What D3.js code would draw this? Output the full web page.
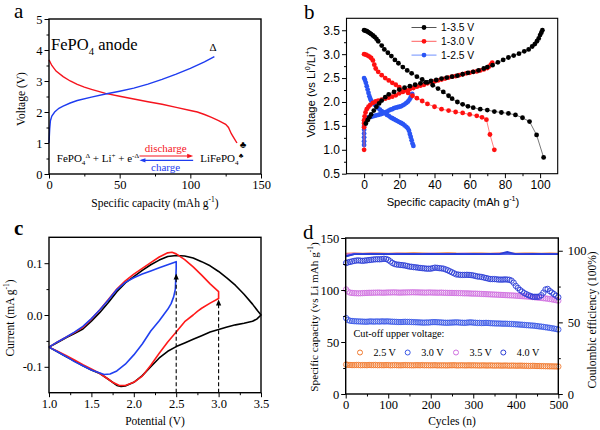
<!DOCTYPE html>
<html><head><meta charset="utf-8">
<script src="https://cdn.jsdelivr.net/npm/d3@7/dist/d3.min.js"></script>
<style>body{margin:0;background:#fff;} svg{display:block;}</style>
</head><body>
<svg id="chart" width="600" height="430"></svg>
<script>
// ---------------- Panel a data ----------------
const aDisCap = [0,2,5,10,15,20,25,30,40,50,60,70,80,90,100,105,110,115,120,125,127,129,131,133];
const aDisV   = [3.68,3.5,3.32,3.14,3.0,2.89,2.8,2.73,2.6,2.51,2.42,2.33,2.25,2.15,2.05,2.0,1.92,1.83,1.72,1.6,1.5,1.3,1.15,1.0];
const aChgCap = [0,0.5,1,2,4,7,10,15,20,30,40,50,60,70,80,90,100,110,117];
const aChgV   = [1.0,1.45,1.72,1.87,2.0,2.12,2.19,2.29,2.37,2.48,2.58,2.67,2.77,2.9,3.05,3.22,3.41,3.62,3.79];
const aXTicks = [0,50,100,150], aXLabels = ["0","50","100","150"], aXMinor = [25,75,125];
const aYTicks = [0,1,2,3,4,5], aYLabels = ["0","1","2","3","4","5"], aYMinor = [0.5,1.5,2.5,3.5,4.5];

// ---------------- Panel b data ----------------
const bNames = ["1-3.5 V","1-3.0 V","1-2.5 V"];
const bDis35 = [[0,3.5],[0.8,3.49],[1.6,3.48],[2.4,3.46],[3.2,3.44],[4,3.42],[5,3.39],[6,3.36],[7,3.32],[8,3.27],[10,3.18],[11.5,3.1],[13.5,3.03],[15.5,2.96],[17.5,2.88],[19.5,2.81],[22,2.73],[24.5,2.66],[27,2.6],[30,2.53],[33,2.47],[36,2.41],[39,2.35],[42,2.28],[45,2.21],[48,2.13],[50,2.07],[53,2.0],[56,1.95],[59,1.91],[62,1.88],[66,1.85],[70,1.83],[74,1.8],[78,1.78],[82,1.76],[86,1.73],[90,1.67],[94,1.59],[98,1.31],[102,0.84]];
const bChg35 = [[1,1.55],[2,1.62],[3,1.68],[4,1.74],[5.5,1.82],[7,1.9],[8.5,1.97],[10,2.03],[12,2.1],[14,2.16],[17,2.21],[20,2.26],[23,2.3],[26,2.33],[29,2.36],[32,2.39],[35,2.41],[38,2.44],[41,2.46],[44,2.49],[47,2.51],[50,2.53],[53,2.55],[56,2.58],[59,2.61],[62,2.63],[65,2.66],[68,2.7],[70,2.73],[73,2.77],[76,2.83],[79,2.88],[82,2.93],[85,2.97],[88,3.01],[91,3.06],[93.5,3.1],[95.5,3.16],[97,3.21],[98.2,3.27],[99.2,3.33],[100,3.4],[100.7,3.45],[101.3,3.5]];
const bDis30 = [[0,3.0],[1,2.99],[2,2.97],[3,2.95],[4,2.92],[5,2.87],[5.8,2.78],[6.6,2.7],[8,2.63],[10,2.56],[12,2.5],[14,2.45],[16,2.4],[18,2.36],[20,2.31],[22.5,2.25],[25,2.19],[27.5,2.13],[30,2.08],[33,2.02],[36,1.96],[40,1.9],[44,1.85],[48,1.82],[52,1.79],[56,1.77],[60,1.74],[64,1.71],[67,1.68],[69.5,1.63],[71.5,1.32],[74,1.0]];
const bChg30 = [[0,1.0],[0,1.47],[0,1.55],[0,1.62],[0.3,1.7],[0.8,1.78],[1.5,1.85],[2.5,1.9],[3.5,1.94],[5,1.98],[6.5,2.01],[8,2.03],[10,2.05],[12,2.07],[14,2.09],[16,2.11],[18,2.14],[20,2.18],[22,2.21],[24,2.24],[26,2.27],[28,2.29],[30,2.32],[32,2.34],[34,2.36],[36,2.39],[38,2.41],[40,2.43],[42,2.45],[44,2.47],[46,2.49],[48,2.51],[50,2.53],[52,2.54],[54,2.56],[56,2.58],[58,2.6],[60,2.61],[62,2.63],[64,2.64],[66,2.66],[68,2.68],[70,2.71],[71,2.74],[72,2.78],[72.8,2.82]];
const bDis25 = [[0,2.5],[0.5,2.46],[1,2.4],[1.5,2.33],[2,2.26],[2.5,2.19],[3,2.12],[3.5,2.07],[4,2.03],[5,1.98],[6,1.94],[7,1.9],[8,1.87],[9,1.84],[10,1.81],[11,1.78],[12,1.76],[13,1.73],[14,1.71],[15,1.68],[16,1.66],[17,1.64],[18,1.62],[19,1.6],[20,1.58],[21,1.56],[22,1.54],[23,1.51],[24,1.48],[24.8,1.45],[25.5,1.4],[26,1.33],[26.5,1.27],[27,1.2],[27.5,1.13],[28,1.08]];
const bChg25 = [[0,1.1],[0,1.18],[0,1.26],[0,1.34],[0,1.42],[0,1.5],[0.1,1.57],[0.4,1.62],[1,1.65],[2,1.67],[3,1.68],[4,1.69],[5,1.7],[6,1.71],[7,1.72],[8,1.73],[9,1.74],[10,1.75],[11,1.77],[12,1.78],[13,1.8],[14,1.82],[15,1.84],[16,1.85],[17,1.87],[18,1.88],[19,1.89],[20,1.9],[21,1.91],[22,1.93],[23,1.95],[24,1.98],[25,2.01],[25.8,2.05],[26.4,2.09],[26.9,2.13],[27.3,2.17]];
const bXTicks = [0,20,40,60,80,100], bXLabels = ["0","20","40","60","80","100"], bXMinor = [10,30,50,70,90];
const bYTicks = [0.5,1.0,1.5,2.0,2.5,3.0,3.5], bYLabels = ["0.5","1.0","1.5","2.0","2.5","3.0","3.5"], bYMinor = [0.75,1.25,1.75,2.25,2.75,3.25];

// ---------------- Panel c data ----------------
const cLoop35 = [[1.0,-0.062],[1.1,-0.053],[1.2,-0.044],[1.3,-0.036],[1.4,-0.027],[1.5,-0.012],[1.6,0.005],[1.7,0.024],[1.8,0.045],[1.9,0.062],[2.0,0.074],[2.1,0.086],[2.2,0.097],[2.3,0.106],[2.4,0.113],[2.5,0.115],[2.6,0.114],[2.7,0.11],[2.8,0.103],[2.9,0.095],[3.0,0.084],[3.1,0.071],[3.2,0.057],[3.3,0.04],[3.4,0.021],[3.46,0.008],[3.5,0.0],[3.45,-0.008],[3.4,-0.012],[3.3,-0.016],[3.2,-0.019],[3.1,-0.023],[3.0,-0.028],[2.9,-0.033],[2.8,-0.04],[2.7,-0.047],[2.6,-0.054],[2.5,-0.061],[2.4,-0.07],[2.3,-0.083],[2.2,-0.1],[2.1,-0.117],[2.0,-0.13],[1.9,-0.137],[1.85,-0.138],[1.8,-0.136],[1.7,-0.124],[1.6,-0.113],[1.5,-0.106],[1.4,-0.098],[1.3,-0.089],[1.2,-0.08],[1.1,-0.071],[1.0,-0.062]];
const cLoop30 = [[1.0,-0.062],[1.1,-0.052],[1.2,-0.043],[1.3,-0.034],[1.4,-0.024],[1.5,-0.008],[1.6,0.01],[1.7,0.03],[1.8,0.05],[1.9,0.066],[2.0,0.079],[2.1,0.09],[2.2,0.101],[2.3,0.112],[2.4,0.12],[2.45,0.121],[2.5,0.118],[2.6,0.107],[2.7,0.093],[2.8,0.077],[2.9,0.06],[3.0,0.045],[3.0,0.032],[2.9,0.023],[2.8,0.013],[2.75,0.007],[2.7,0.0],[2.6,-0.013],[2.5,-0.033],[2.4,-0.052],[2.3,-0.074],[2.2,-0.097],[2.1,-0.118],[2.0,-0.13],[1.9,-0.136],[1.83,-0.136],[1.75,-0.13],[1.7,-0.124],[1.6,-0.113],[1.5,-0.104],[1.4,-0.096],[1.3,-0.087],[1.2,-0.078],[1.1,-0.07],[1.0,-0.062]];
const cLoop25 = [[1.0,-0.062],[1.1,-0.052],[1.2,-0.043],[1.3,-0.033],[1.4,-0.022],[1.5,-0.007],[1.6,0.01],[1.7,0.029],[1.8,0.049],[1.9,0.063],[2.0,0.072],[2.1,0.079],[2.2,0.085],[2.3,0.091],[2.4,0.097],[2.5,0.103],[2.5,0.09],[2.495,0.07],[2.49,0.05],[2.47,0.035],[2.44,0.022],[2.4,0.011],[2.35,0.0],[2.3,-0.011],[2.2,-0.031],[2.1,-0.056],[2.0,-0.077],[1.9,-0.095],[1.8,-0.108],[1.72,-0.114],[1.65,-0.115],[1.6,-0.112],[1.5,-0.106],[1.4,-0.098],[1.3,-0.09],[1.2,-0.08],[1.1,-0.071],[1.0,-0.062]];
const cCutoffs = [2.5, 3.0], cArrowTops = [0.08, 0.03];
const cXTicks = [1.0,1.5,2.0,2.5,3.0,3.5], cXLabels = ["1.0","1.5","2.0","2.5","3.0","3.5"], cXMinor = [1.25,1.75,2.25,2.75,3.25];
const cYTicks = [-0.1,0.0,0.1], cYLabels = ["-0.1","0.0","0.1"], cYMinor = [-0.05,0.05];

// ---------------- Panel d data ----------------
const dCycles = [
  1,5,10,15,20,25,30,35,40,45,
  50,55,60,65,70,75,80,85,90,95,
  100,105,110,115,120,125,130,135,140,145,
  150,155,160,165,170,175,180,185,190,195,
  200,205,210,215,220,225,230,235,240,245,
  250,255,260,265,270,275,280,285,290,295,
  300,305,310,315,320,325,330,335,340,345,
  350,355,360,365,370,375,380,385,390,395,
  400,405,410,415,420,425,430,435,440,445,
  450,455,460,465,470,475,480,485,490,495,
  500];
const dCap25 = [
  28.3,28.0,27.9,27.8,27.8,27.9,27.9,27.7,27.8,27.8,
  27.7,27.9,27.8,27.8,27.9,27.7,27.8,27.7,27.7,27.8,
  27.8,27.6,27.7,27.8,27.7,27.6,27.6,27.7,27.8,27.7,
  27.7,27.6,27.6,27.7,27.7,27.6,27.8,27.6,27.7,27.6,
  27.6,27.6,27.7,27.5,27.6,27.5,27.6,27.5,27.5,27.6,
  27.6,27.7,27.5,27.5,27.6,27.6,27.5,27.5,27.6,27.5,
  27.6,27.5,27.5,27.4,27.5,27.5,27.4,27.4,27.5,27.4,
  27.3,27.4,27.4,27.3,27.3,27.4,27.3,27.2,27.3,27.3,
  27.2,27.2,27.3,27.2,27.1,27.1,27.0,27.0,27.1,27.0,
  26.9,26.9,26.8,26.8,26.7,26.7,26.6,26.6,26.5,26.5,
  26.4];
const dCap30 = [
  73.0,71.2,70.5,70.2,70.0,69.9,69.8,69.7,69.6,69.5,
  69.5,69.7,69.8,69.6,69.7,69.8,69.6,69.9,69.7,69.8,
  69.8,69.6,69.5,69.4,69.3,69.2,69.2,69.3,69.4,69.3,
  69.3,69.2,69.1,69.0,68.9,68.8,68.7,68.6,68.8,68.7,
  69.0,69.1,69.1,69.0,68.9,68.8,68.6,68.5,68.5,68.6,
  68.7,68.8,68.9,68.8,68.6,68.5,68.4,68.6,68.8,68.9,
  68.6,68.5,68.3,68.4,68.2,68.3,68.4,68.3,68.1,68.0,
  67.9,67.8,67.8,67.7,67.6,67.6,67.5,67.4,67.3,67.2,
  67.0,66.9,66.7,66.6,66.4,66.2,66.1,65.9,65.8,65.6,
  65.3,65.0,64.8,64.5,64.2,63.9,63.6,63.2,62.9,62.5,
  62.0];
const dCap35 = [
  100.5,98.5,97.5,97.2,97.0,96.9,96.8,96.9,97.0,97.1,
  97.2,97.3,97.3,97.4,97.4,97.5,97.5,97.4,97.4,97.5,
  97.6,97.6,97.7,97.7,97.6,97.5,97.5,97.6,97.6,97.7,
  97.7,97.8,97.8,97.7,97.7,97.6,97.6,97.5,97.5,97.6,
  97.6,97.5,97.5,97.4,97.4,97.5,97.3,97.3,97.2,97.2,
  97.2,97.1,97.1,97.0,97.0,96.9,96.8,96.8,96.7,96.6,
  96.5,96.5,96.4,96.3,96.2,96.1,96.0,95.9,95.8,95.7,
  95.6,95.5,95.4,95.3,95.2,95.1,95.0,94.9,94.8,94.7,
  94.5,94.4,94.2,94.1,93.9,93.8,93.6,93.4,93.2,93.0,
  92.8,92.6,92.4,92.1,91.9,91.6,91.3,91.0,90.6,90.2,
  89.8];
const dCap40 = [
  126.0,126.5,127.0,127.5,128.0,128.3,128.5,128.2,128.0,128.3,
  128.5,128.8,129.0,129.3,129.5,129.6,129.5,129.7,130.0,129.8,
  129.0,127.5,126.0,125.0,124.5,124.3,124.0,123.8,123.5,123.0,
  122.5,122.3,122.0,121.8,121.5,121.2,121.0,120.8,120.5,120.5,
  120.5,121.0,121.5,121.3,121.0,120.8,120.5,119.8,119.0,118.0,
  117.0,116.0,115.0,114.8,114.5,114.5,114.5,114.6,114.5,114.3,
  114.0,113.5,113.0,112.8,112.5,112.0,111.5,111.0,110.5,110.5,
  110.5,110.3,110.0,110.0,110.0,110.2,110.0,109.8,109.0,107.0,
  104.0,102.0,100.0,98.5,97.0,96.0,95.0,94.2,93.5,93.5,
  93.5,93.6,95.0,97.5,100.5,101.0,99.0,97.5,96.0,94.5,
  93.0];
const ceCycles = [1,20,40,60,80,100,120,140,160,180,200,220,240,260,280,300,320,340,360,380,400,420,440,460,480,500];
const dCE25 = [97.9,98.1,98.0,98.2,98.1,98.0,98.2,98.1,98.3,98.1,98.0,98.2,98.4,98.1,98.0,98.2,98.1,98.0,98.2,98.1,98.0,98.1,98.2,98.0,98.1,98.0];
const dCE30 = [96.5,97.6,97.7,97.6,97.8,97.7,97.6,97.7,97.8,97.6,97.7,97.8,97.7,97.6,97.7,97.8,97.7,97.6,97.7,97.8,97.7,97.6,97.7,97.8,97.7,97.6];
const dCE35 = [97.5,97.9,97.8,97.9,97.8,97.7,97.9,97.8,97.7,97.8,97.9,97.8,97.7,97.8,97.9,97.8,97.7,97.8,97.9,97.8,97.7,97.6,97.7,97.8,97.7,97.6];
const dCE40 = [96.0,97.7,97.6,97.8,97.7,97.6,97.7,97.8,97.6,97.7,97.8,97.6,97.7,97.8,97.7,97.6,97.7,97.8,97.7,99.2,97.7,97.6,97.8,97.7,97.6,97.7];
const dNames = ["2.5 V","3.0 V","3.5 V","4.0 V"];
const dXTicks = [0,100,200,300,400,500], dXLabels = ["0","100","200","300","400","500"], dXMinor = [50,150,250,350,450];
const dYTicks = [0,50,100,150], dYLabels = ["0","50","100","150"], dYMinor = [25,75,125];
const dRTicks = [0,50,100], dRLabels = ["0","50","100"], dRMinor = [25,75];

// ---------------- helpers ----------------
const SERIF = '"Liberation Serif","Times New Roman",serif';
const SANS = '"Liberation Sans",Arial,sans-serif';
const svg = d3.select("#chart");
svg.append("rect").attr("width",600).attr("height",430).attr("fill","#fff");

function drawAxis(orient, scale, pos, majors, labels, minors, font, fs, pad) {
  const gen = {bottom: d3.axisBottom, left: d3.axisLeft, right: d3.axisRight}[orient];
  const tr = orient === "bottom" ? `translate(0,${pos})` : `translate(${pos},0)`;
  const gm = svg.append("g").attr("transform", tr).call(gen(scale).tickValues(minors).tickSize(2.5).tickFormat(""));
  gm.select(".domain").remove();
  gm.selectAll("line").attr("stroke","#000").attr("stroke-width",1);
  const g = svg.append("g").attr("transform", tr)
    .call(gen(scale).tickValues(majors).tickSize(4.5).tickPadding(pad == null ? 2 : pad).tickFormat((d,i) => labels[i]));
  g.select(".domain").remove();
  g.attr("font-family", font).attr("font-size", fs);
  g.selectAll("line").attr("stroke","#000").attr("stroke-width",1);
  g.selectAll("text").attr("fill","#000");
  return g;
}
function frame(x, y, sw) {
  const [x0,x1] = x.range(), [y1,y0] = y.range();
  svg.append("rect").attr("x",x0).attr("y",y0).attr("width",x1-x0).attr("height",y1-y0)
    .attr("fill","none").attr("stroke","#000").attr("stroke-width",sw);
}
function rich(t, parts, fs) {
  let cur = 0;
  parts.forEach(([s, k]) => {
    const off = k === "sup" ? -fs*0.42 : k === "sub" ? fs*0.28 : 0;
    const ts = t.append("tspan").text(s).attr("dy", off - cur);
    if (k !== "n") ts.attr("font-size", fs*0.65);
    cur = off;
  });
  return t;
}
function label(x, y, parts, font, fs, rot, anchor, extra) {
  const t = svg.append("text").attr("font-family", font).attr("font-size", fs).attr("fill","#000")
    .attr("text-anchor", anchor || "middle")
    .attr("transform", `translate(${x},${y})` + (rot ? ` rotate(${rot})` : ""));
  if (extra) extra(t);
  return rich(t, parts, fs);
}
function panelLetter(x, y, s, bold) {
  svg.append("text").attr("x",x).attr("y",y).attr("font-family",SERIF).attr("font-size",21)
    .attr("font-weight", bold ? "bold" : "normal").text(s);
}

// ================= Panel a =================
const aX = d3.scaleLinear().domain([0,150]).range([49,261]);
const aY = d3.scaleLinear().domain([0,5]).range([174,19]);
const aRed = "#f5141e", aBlue = "#1e3cf0";
const lineA = d3.line().x(d => aX(d[0])).y(d => aY(d[1]));
svg.append("path").datum(aDisCap.map((c,i) => [c, aDisV[i]])).attr("d", lineA)
  .attr("fill","none").attr("stroke",aRed).attr("stroke-width",1.4);
svg.append("path").datum(aChgCap.map((c,i) => [c, aChgV[i]])).attr("d", lineA)
  .attr("fill","none").attr("stroke",aBlue).attr("stroke-width",1.4);
frame(aX, aY, 1.4);
drawAxis("bottom", aX, 174, aXTicks, aXLabels, aXMinor, SERIF, 12.5);
drawAxis("left", aY, 49, aYTicks, aYLabels, aYMinor, SERIF, 12.5);
label(155, 207, [["Specific capacity (mAh g","n"],["-1","sup"],[")","n"]], SERIF, 11.5);
label(25, 99, [["Voltage (V)","n"]], SERIF, 11.5, -90);
panelLetter(14, 18, "a");
label(aX(1.5), aY(4.0), [["FePO","n"],["4","sub"],[" anode","n"]], SERIF, 16.5, 0, "start");
label(aX(116), aY(3.98), [["Δ","n"]], SERIF, 11);
label(aX(137.3), aY(0.85), [["♣","n"]], SERIF, 10);
label(aX(5.5), aY(0.38), [["FePO","n"],["4","sub"],["Δ","sup"],[" + Li","n"],["+","sup"],[" + e","n"],["-Δ","sup"]], SERIF, 11, 0, "start");
label(aX(107), aY(0.38), [["LiFePO","n"],["4","sub"],["♣","sup"]], SERIF, 11, 0, "start");
label(aX(82.5), aY(0.72), [["discharge","n"]], SERIF, 11, 0, "middle", t => t.attr("fill", aRed));
label(aX(82.5), aY(0.1), [["charge","n"]], SERIF, 11, 0, "middle", t => t.attr("fill", aBlue));
svg.append("line").attr("x1",aX(64)).attr("x2",aX(100.5)).attr("y1",aY(0.58)).attr("y2",aY(0.58)).attr("stroke",aRed).attr("stroke-width",1.1);
svg.append("path").attr("d",`M${aX(102)},${aY(0.58)} l-6,-2.2 l0,4.4 z`).attr("fill",aRed);
svg.append("line").attr("x1",aX(65.5)).attr("x2",aX(102)).attr("y1",aY(0.44)).attr("y2",aY(0.44)).attr("stroke",aBlue).attr("stroke-width",1.1);
svg.append("path").attr("d",`M${aX(64)},${aY(0.44)} l6,-2.2 l0,4.4 z`).attr("fill",aBlue);

// ================= Panel b =================
const bX = d3.scaleLinear().domain([-10,110]).range([346.5,557.7]);
const bY = d3.scaleLinear().domain([0.5,3.75]).range([173.7,18.3]);
const bDot = ["#000000","#ff1010","#2a55f5"], bLine = ["#555555","#ff6060","#7090ff"];
const bSeries = [[bDis35,bChg35],[bDis30,bChg30],[bDis25,bChg25]];
const lineB = d3.line().x(d => bX(d[0])).y(d => bY(d[1]));
[2,1,0].forEach(si => {
  bSeries[si].forEach(arr => {
    svg.append("path").datum(arr).attr("d", lineB).attr("fill","none").attr("stroke",bLine[si]).attr("stroke-width",0.8);
    svg.append("g").selectAll("circle").data(arr).join("circle")
      .attr("cx", d => bX(d[0])).attr("cy", d => bY(d[1])).attr("r", 2.4).attr("fill", bDot[si]);
  });
});
frame(bX, bY, 1.1);
drawAxis("bottom", bX, 173.7, bXTicks, bXLabels, bXMinor, SANS, 12);
drawAxis("left", bY, 346.5, bYTicks, bYLabels, bYMinor, SANS, 12);
label(453, 206, [["Specific capacity (mAh g","n"],["-1","sup"],[")","n"]], SANS, 11.2);
label(315, 92, [["Voltage (vs Li","n"],["0","sup"],["/Li","n"],["+","sup"],[")","n"]], SANS, 11.2, -90);
panelLetter(304, 19, "b");
bNames.forEach((nm, i) => {
  const yy = 27.5 + i*13.8;
  svg.append("line").attr("x1",411.5).attr("x2",436.5).attr("y1",yy).attr("y2",yy).attr("stroke",bLine[i]).attr("stroke-width",1);
  svg.append("circle").attr("cx",424).attr("cy",yy).attr("r",2.4).attr("fill",bDot[i]);
  svg.append("text").attr("x",441).attr("y",yy+3.6).attr("font-family",SANS).attr("font-size",10.3).text(nm);
});

// ================= Panel c =================
const cX = d3.scaleLinear().domain([1.0,3.5]).range([49,261]);
const cY = d3.scaleLinear().domain([-0.15,0.15]).range([392.7,237.3]);
const lineC = d3.line().x(d => cX(d[0])).y(d => cY(d[1]));
[[cLoop35,"#000000"],[cLoop30,"#ff1a1a"],[cLoop25,"#2040f0"]].forEach(([arr,col]) => {
  svg.append("path").datum(arr).attr("d", lineC).attr("fill","none").attr("stroke",col)
    .attr("stroke-width",1.6).attr("stroke-linejoin","round");
});
cCutoffs.forEach((v,i) => {
  svg.append("line").attr("x1",cX(v)).attr("x2",cX(v)).attr("y1",cY(-0.15)).attr("y2",cY(cArrowTops[i])+5)
    .attr("stroke","#000").attr("stroke-width",1.1).attr("stroke-dasharray","4,2.5");
  svg.append("path").attr("d",`M${cX(v)},${cY(cArrowTops[i])} l-2.6,6 l5.2,0 z`).attr("fill","#000");
});
frame(cX, cY, 1.4);
drawAxis("bottom", cX, 392.7, cXTicks, cXLabels, cXMinor, SERIF, 12.5);
drawAxis("left", cY, 49, cYTicks, cYLabels, cYMinor, SERIF, 12.5);
label(155, 425, [["Potential (V)","n"]], SERIF, 11.5);
label(14, 318, [["Current (mA g","n"],["-1","sup"],[")","n"]], SERIF, 11.5, -90);
panelLetter(14, 235, "c", true);

// ================= Panel d =================
const dX = d3.scaleLinear().domain([0,500]).range([345.7,558.3]);
const dY = d3.scaleLinear().domain([0,150]).range([394,238]);
const dR = d3.scaleLinear().domain([0,108.9]).range([394,238]);
const dCols = ["#f07a30","#3a58e6","#d070e0","#2a3cd6"];
const dCaps = [dCap25, dCap30, dCap35, dCap40];
const dCEs = [dCE25, dCE35, dCE30, dCE40], dCEcols = [dCols[0], dCols[2], dCols[1], dCols[3]];
dCEs.forEach((arr, k) => {
  svg.append("path").datum(arr.map((v,i) => [ceCycles[i], v]))
    .attr("d", d3.line().x(d => dX(d[0])).y(d => dR(d[1])))
    .attr("fill","none").attr("stroke",dCEcols[k]).attr("stroke-width",1.8);
});
dCaps.forEach((arr, k) => {
  svg.append("g").selectAll("circle").data(arr.map((v,i) => [dCycles[i], v])).join("circle")
    .attr("cx", d => dX(d[0])).attr("cy", d => dY(d[1])).attr("r", 2.7)
    .attr("fill","none").attr("stroke", dCols[k]).attr("stroke-width", 0.9);
});
frame(dX, dY, 1.4);
drawAxis("bottom", dX, 394, dXTicks, dXLabels, dXMinor, SERIF, 12.5);
drawAxis("left", dY, 345.7, dYTicks, dYLabels, dYMinor, SERIF, 12.5);
drawAxis("right", dR, 558.3, dRTicks, dRLabels, dRMinor, SERIF, 12.5, 5);
label(452, 425, [["Cycles (n)","n"]], SERIF, 11.5);
label(318, 317, [["Specific capacity (vs Li mAh g","n"],["-1","sup"],[")","n"]], SERIF, 11.2, -90);
label(596, 320, [["Coulombic efficiency (100%)","n"]], SERIF, 11.5, -90);
panelLetter(303, 239, "d");
svg.append("text").attr("x",353.5).attr("y",336.5).attr("font-family",SERIF).attr("font-size",10.2).text("Cut-off upper voltage:");
const legX = [360, 407.7, 456, 503.3];
dNames.forEach((nm, i) => {
  svg.append("circle").attr("cx",legX[i]).attr("cy",352.5).attr("r",2.5).attr("fill","none").attr("stroke",dCols[i]).attr("stroke-width",1);
  svg.append("text").attr("x",legX[i]+13.5).attr("y",356).attr("font-family",SERIF).attr("font-size",10.2).text(nm);
});
</script>
</body></html>
